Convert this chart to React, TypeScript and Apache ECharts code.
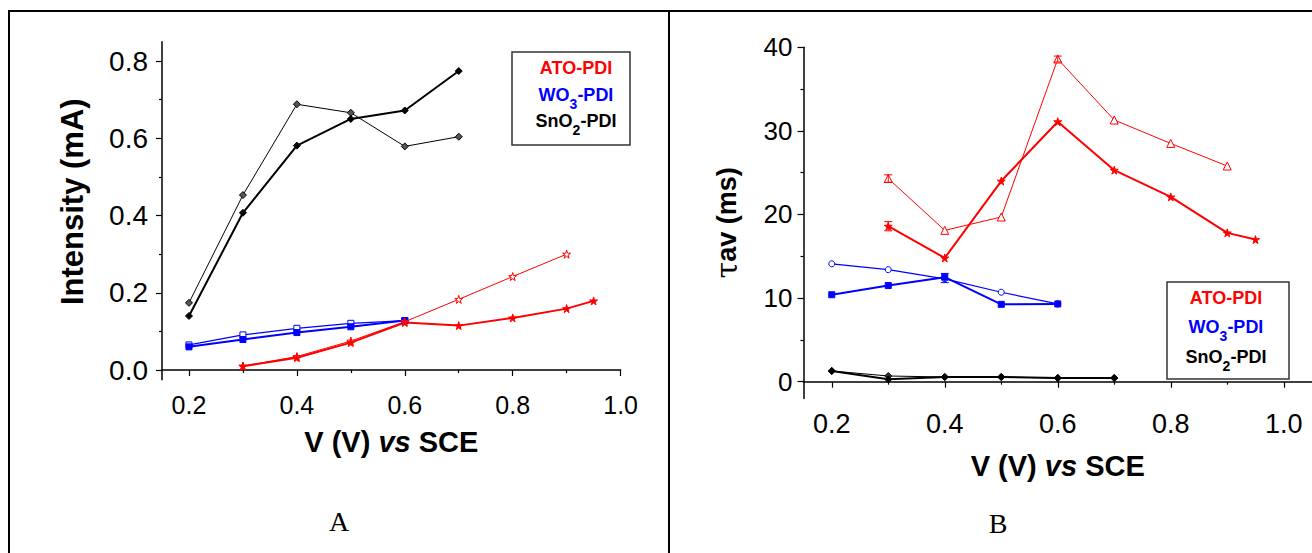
import React, { useEffect, useRef } from "react";
import * as echarts from "echarts";

const FONT = '"Liberation Sans", Arial, Helvetica, sans-serif';
const SERIF = '"Liberation Serif", "Times New Roman", serif';
const RED = "#ff0000";
const BLUE = "#0000ff";
const BLACK = "#000000";

// ---- Panel A: Intensity (mA) vs V ----
const aAtoThinV = [0.3, 0.4, 0.5, 0.6, 0.7, 0.8, 0.9];
const aAtoThinI = [0.01, 0.035, 0.075, 0.125, 0.183, 0.242, 0.3];
const aAtoThickV = [0.3, 0.4, 0.5, 0.6, 0.7, 0.8, 0.9, 0.95];
const aAtoThickI = [0.01, 0.032, 0.071, 0.123, 0.115, 0.135, 0.159, 0.179];
const aWoV = [0.2, 0.3, 0.4, 0.5, 0.6];
const aWoThinI = [0.065, 0.091, 0.108, 0.121, 0.128];
const aWoThickI = [0.06, 0.079, 0.097, 0.112, 0.128];
const aSnV = [0.2, 0.3, 0.4, 0.5, 0.6, 0.7];
const aSnThinI = [0.174, 0.453, 0.688, 0.666, 0.579, 0.604];
const aSnThickI = [0.14, 0.407, 0.581, 0.65, 0.672, 0.774];

// ---- Panel B: tau_av (ms) vs V ----
const bAtoThinV = [0.3, 0.4, 0.5, 0.6, 0.7, 0.8, 0.9];
const bAtoThinT = [24.3, 18.1, 19.7, 38.6, 31.3, 28.5, 25.8];
const bAtoThickV = [0.3, 0.4, 0.5, 0.6, 0.7, 0.8, 0.9, 0.95];
const bAtoThickT = [18.6, 14.8, 24.0, 31.1, 25.3, 22.1, 17.8, 17.0];
const bWoV = [0.2, 0.3, 0.4, 0.5, 0.6];
const bWoThinT = [14.1, 13.4, 12.3, 10.7, 9.3];
const bWoThickT = [10.4, 11.5, 12.5, 9.25, 9.3];
const bSnV = [0.2, 0.3, 0.4, 0.5, 0.6, 0.7];
const bSnThinT = [1.28, 0.68, 0.56, 0.56, 0.44, 0.44];
const bSnThickT = [1.28, 0.28, 0.56, 0.56, 0.44, 0.44];

// error bars [V, value, half-width]
const bRedErr = [
  [0.3, 24.3, 0.45],
  [0.3, 18.6, 0.55],
  [0.6, 38.6, 0.35],
];
const bBlueErr = [[0.4, 12.4, 0.55]];

// ticks
const aXTicks = [0.2, 0.4, 0.6, 0.8, 1.0];
const aXMinor = [0.3, 0.5, 0.7, 0.9];
const aYTicks = [0, 0.2, 0.4, 0.6, 0.8];
const aYMinor = [0.1, 0.3, 0.5, 0.7];
const bXTicks = [0.2, 0.4, 0.6, 0.8, 1.0];
const bXMinor = [0.3, 0.5, 0.7, 0.9];
const bYTicks = [0, 10, 20, 30, 40];
const bYMinor = [5, 15, 25, 35];

const STAR =
  "path://M50,0 L61,35 L98,35 L68,57 L79,91 L50,70 L21,91 L32,57 L2,35 L39,35 Z";

function pairs(xs: number[], ys: number[]) {
  return xs.map((x, i) => [x, ys[i]]);
}

function line(
  xs: number[],
  ys: number[],
  grid: number,
  color: string,
  width: number,
  symbol: string,
  fill: string,
  size: number
) {
  return {
    type: "line",
    xAxisIndex: grid * 2,
    yAxisIndex: grid * 2,
    data: pairs(xs, ys),
    symbol,
    symbolSize: size,
    showAllSymbol: true,
    lineStyle: { color, width },
    itemStyle: { color: fill, borderColor: color, borderWidth: 1 },
    emphasis: { disabled: true },
    z: 3,
  };
}

function errSeries(data: number[][], color: string) {
  return {
    type: "custom",
    xAxisIndex: 2,
    yAxisIndex: 2,
    data,
    z: 4,
    renderItem: (params: any, api: any) => {
      const x = api.value(0);
      const y = api.value(1);
      const e = api.value(2);
      const p1 = api.coord([x, y + e]);
      const p2 = api.coord([x, y - e]);
      const st = { stroke: color, lineWidth: 1 };
      return {
        type: "group",
        children: [
          { type: "line", shape: { x1: p1[0], y1: p1[1], x2: p2[0], y2: p2[1] }, style: st },
          { type: "line", shape: { x1: p1[0] - 4, y1: p1[1], x2: p1[0] + 4, y2: p1[1] }, style: st },
          { type: "line", shape: { x1: p2[0] - 4, y1: p2[1], x2: p2[0] + 4, y2: p2[1] }, style: st },
        ],
      };
    },
  };
}

const axisLineStyle = { color: "#000", width: 1.5 };

function xAxes(grid: number, min: number, max: number, ticks: number[], minor: number[], fs: number, margin: number, gap: number) {
  return [
    {
      type: "value",
      gridIndex: grid,
      position: "bottom",
      min,
      max,
      axisLine: { show: true, lineStyle: axisLineStyle },
      axisTick: { show: true, customValues: ticks, length: 6, lineStyle: { color: "#000", width: 1.2 } },
      axisLabel: {
        customValues: ticks,
        formatter: (v: number) => v.toFixed(1),
        fontSize: fs,
        fontFamily: FONT,
        color: "#000",
        margin,
      },
      splitLine: { show: false },
      name: "{b|V (V) }{i|vs}{b| SCE}",
      nameLocation: "middle",
      nameGap: gap,
      nameTextStyle: {
        rich: {
          b: { fontSize: 29, fontWeight: "bold", fontFamily: FONT, color: "#000" },
          i: { fontSize: 29, fontWeight: "bold", fontStyle: "italic", fontFamily: FONT, color: "#000" },
        },
      },
    },
    {
      type: "value",
      gridIndex: grid,
      position: "bottom",
      min,
      max,
      axisLine: { show: false },
      axisTick: { show: true, customValues: minor, length: 3, lineStyle: { color: "#000", width: 1.2 } },
      axisLabel: { show: false },
      splitLine: { show: false },
    },
  ];
}

function yAxes(grid: number, min: number, max: number, ticks: number[], minor: number[], fmt: (v: number) => string, fs: number, margin: number, name: string, gap: number, rich: any) {
  return [
    {
      type: "value",
      gridIndex: grid,
      position: "left",
      min,
      max,
      axisLine: { show: true, lineStyle: axisLineStyle },
      axisTick: { show: true, customValues: ticks, length: 6, lineStyle: { color: "#000", width: 1.2 } },
      axisLabel: { customValues: ticks, formatter: fmt, fontSize: fs, fontFamily: FONT, color: "#000", margin },
      splitLine: { show: false },
      name,
      nameLocation: "middle",
      nameGap: gap,
      nameTextStyle: { rich },
    },
    {
      type: "value",
      gridIndex: grid,
      position: "left",
      min,
      max,
      axisLine: { show: false },
      axisTick: { show: true, customValues: minor, length: 3, lineStyle: { color: "#000", width: 1.2 } },
      axisLabel: { show: false },
      splitLine: { show: false },
    },
  ];
}

function legend(x0: number, y0: number, w: number, h: number, cx: number, rows: number[]) {
  const base = { fontSize: 18, fontWeight: "bold", fontFamily: FONT, lineHeight: 22, verticalAlign: "top" };
  const sub = { fontSize: 14, fontWeight: "bold", fontFamily: FONT, lineHeight: 14, padding: [11, 0, 0, 0], verticalAlign: "top" };
  return [
    {
      type: "rect",
      shape: { x: x0, y: y0, width: w, height: h },
      style: { fill: "#fff", stroke: "#333", lineWidth: 1.5 },
      z: 10,
    },
    {
      type: "text",
      x: cx,
      y: rows[0],
      z: 11,
      style: { text: "ATO-PDI", fill: RED, font: `bold 18px ${FONT}`, align: "center", verticalAlign: "middle" },
    },
    {
      type: "text",
      x: cx,
      y: rows[1] + 2,
      z: 11,
      style: {
        text: "{a|WO}{s|3}{a|-PDI}",
        align: "center",
        verticalAlign: "middle",
        rich: { a: { ...base, fill: BLUE }, s: { ...sub, fill: BLUE } },
      },
    },
    {
      type: "text",
      x: cx,
      y: rows[2] + 2,
      z: 11,
      style: {
        text: "{a|SnO}{s|2}{a|-PDI}",
        align: "center",
        verticalAlign: "middle",
        rich: { a: { ...base, fill: BLACK }, s: { ...sub, fill: BLACK } },
      },
    },
  ];
}

export default function App() {
  const ref = useRef<HTMLDivElement>(null);
  useEffect(() => {
    document.body.style.margin = "0";
    const chart = echarts.init(ref.current!, null, { renderer: "svg" });
    const option: any = {
      animation: false,
      backgroundColor: "#fff",
      grid: [
        { left: 162, top: 41.7, width: 458.6, height: 338 },
        { left: 803.5, top: 47.3, width: 508.5, height: 351.1 },
      ],
      xAxis: [
        ...xAxes(0, 0.15, 1.0, aXTicks, aXMinor, 25, 13, 48),
        ...xAxes(1, 0.15, 1.05, bXTicks, bXMinor, 27, 12, 53),
      ],
      yAxis: [
        ...yAxes(0, -0.025, 0.85, aYTicks, aYMinor, (v) => v.toFixed(1), 28, 14, "{b|Intensity (mA)}", 74, {
          b: { fontSize: 31, fontWeight: "bold", fontFamily: FONT, color: "#000", padding: [0, 0, 0, 18] },
        }),
        ...yAxes(1, -2, 40, bYTicks, bYMinor, (v) => String(Math.round(v)), 26, 11, "{t|τ}{b|av (ms)}", 62, {
          t: { fontSize: 30, fontFamily: '"DejaVu Serif", serif', color: "#000" },
          b: { fontSize: 27, fontWeight: "bold", fontFamily: FONT, color: "#000" },
        }),
      ],
      series: [
        line(aSnV, aSnThinI, 0, BLACK, 1, "diamond", "#555", 7),
        line(aSnV, aSnThickI, 0, BLACK, 2, "diamond", BLACK, 7),
        line(aWoV, aWoThinI, 0, BLUE, 1.2, "rect", "#fff", 6),
        line(aWoV, aWoThickI, 0, BLUE, 2, "rect", BLUE, 6),
        line(aAtoThinV, aAtoThinI, 0, RED, 1, STAR, "#fff", 8),
        line(aAtoThickV, aAtoThickI, 0, RED, 2, STAR, RED, 8),
        line(bSnV, bSnThinT, 1, BLACK, 1, "diamond", "#333", 7),
        line(bSnV, bSnThickT, 1, BLACK, 2, "diamond", BLACK, 7),
        line(bWoV, bWoThinT, 1, BLUE, 1.2, "circle", "#fff", 6),
        line(bWoV, bWoThickT, 1, BLUE, 2, "rect", BLUE, 6),
        line(bAtoThinV, bAtoThinT, 1, RED, 1, "triangle", "#fff", 8),
        line(bAtoThickV, bAtoThickT, 1, RED, 2, STAR, RED, 8),
        errSeries(bRedErr, RED),
        errSeries(bBlueErr, BLUE),
      ],
      graphic: [
        { type: "line", shape: { x1: 8, y1: 11, x2: 1312, y2: 11 }, style: { stroke: "#000", lineWidth: 2 } },
        { type: "line", shape: { x1: 9, y1: 10, x2: 9, y2: 553 }, style: { stroke: "#000", lineWidth: 2 } },
        { type: "line", shape: { x1: 669, y1: 10, x2: 669, y2: 553 }, style: { stroke: "#000", lineWidth: 2 } },
        ...legend(512, 52, 118, 93, 576, [68, 95, 121]),
        ...legend(1167, 282, 122, 97, 1226, [298, 327, 357]),
        {
          type: "text",
          x: 339,
          y: 521,
          style: { text: "A", fill: "#000", font: `28px ${SERIF}`, align: "center", verticalAlign: "middle" },
        },
        {
          type: "text",
          x: 998,
          y: 523,
          style: { text: "B", fill: "#000", font: `28px ${SERIF}`, align: "center", verticalAlign: "middle" },
        },
      ],
    };
    chart.setOption(option);
    return () => chart.dispose();
  }, []);
  return (
    <div
      ref={ref}
      style={{ position: "fixed", left: 0, top: 0, width: 1312, height: 553, background: "#fff" }}
    />
  );
}
